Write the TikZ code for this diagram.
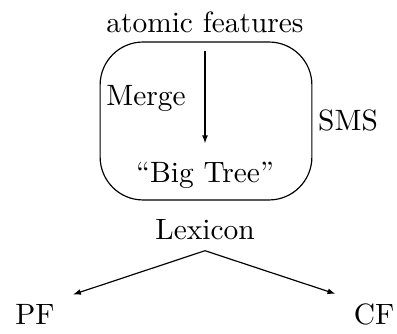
\documentclass[tikz,border=0pt]{standalone}
\usetikzlibrary{arrows.meta}

\begin{document}
\begin{tikzpicture}[x=0.34pt, y=-0.34pt, >={Latex[length=2.7pt,width=2pt]}]
\useasboundingbox (0,0) rectangle (397,334);

% SMS box
\node[draw, rounded corners=14.6pt, minimum width=72pt, minimum height=53.7pt] (box) at (206,121) {};
\node[anchor=base] (feat) at (205,33) {atomic features};
\node[anchor=base] (merge) at (146,106) {Merge};
\node[anchor=base] (big) at (205,183) {``Big Tree''};
\node[anchor=base] (sms) at (348,131) {SMS};
\draw[->, shorten <=2.4pt, shorten >=3pt] (feat.south) -- (big.north);

% Lexicon and the two interfaces
\node[anchor=base] (lex) at (205,240) {Lexicon};
\node[anchor=base] (pf) at (35,325) {PF};
\node[anchor=base] (cf) at (374,325) {CF};
\draw[->] (lex.south) -- ([xshift=2.7pt]pf.north east);
\draw[->] (lex.south) -- ([xshift=-2.7pt]cf.north west);
\end{tikzpicture}
\end{document}
